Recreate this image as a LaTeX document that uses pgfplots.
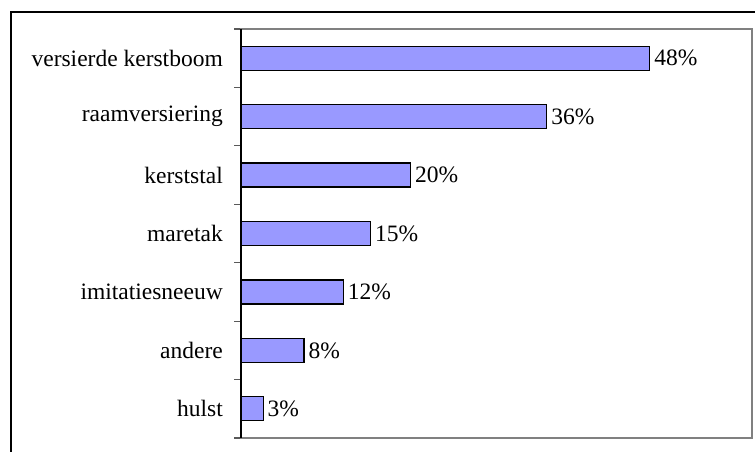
\documentclass[border=0pt]{standalone}
\usepackage{fontspec}
\setmainfont{Liberation Serif}
\usepackage{pgfplots}
\pgfplotsset{compat=1.18}
\usetikzlibrary{calc}
\definecolor{barfill}{HTML}{9999FF}
\begin{document}
\fontsize{23.5}{27}\selectfont
\begin{tikzpicture}
\begin{axis}[name=ax, scale only axis, width=511pt, height=409pt,
  xbar, bar width=24pt, xmin=0, xmax=60, ymin=-0.5, ymax=6.5,
  axis line style={draw=gray, line width=1.2pt},
  xtick=\empty,
  ytick={0,1,2,3,4,5,6},
  yticklabels={hulst,andere,imitatiesneeuw,maretak,kerststal,raamversiering,versierde kerstboom},
  major tick length=0pt,
  minor ytick={-0.5,0.5,1.5,2.5,3.5,4.5,5.5,6.5},
  minor tick length=7pt,
  tick align=outside, ytick pos=left,
  minor tick style={draw=gray!70!black, line width=1.2pt},
  yticklabel style={inner sep=0pt, xshift=-18pt},
  point meta=explicit symbolic,
  nodes near coords,
  nodes near coords style={anchor=west, inner sep=0pt, xshift=4pt},
  clip=false]
\addplot[fill=barfill, draw=black, line width=1.2pt] coordinates {
  (2.6,0) [3\%]
  (7.4,1) [8\%]
  (12,2) [12\%]
  (15.2,3) [15\%]
  (19.9,4) [20\%]
  (35.9,5) [36\%]
  (48,6) [48\%]
};
\end{axis}
\draw[black, line width=1.2pt] (ax.south west) -- (ax.north west);
\draw[black, line width=1.5pt] ($(ax.south west)+(-230pt,-20pt)$) -- ($(ax.north west)+(-230pt,17pt)$) -- ($(ax.north east)+(10pt,17pt)$);
\pgfresetboundingbox
\useasboundingbox ($(ax.south west)+(-241pt,-13pt)$) rectangle ($(ax.north east)+(3pt,29pt)$);
\end{tikzpicture}
\end{document}
